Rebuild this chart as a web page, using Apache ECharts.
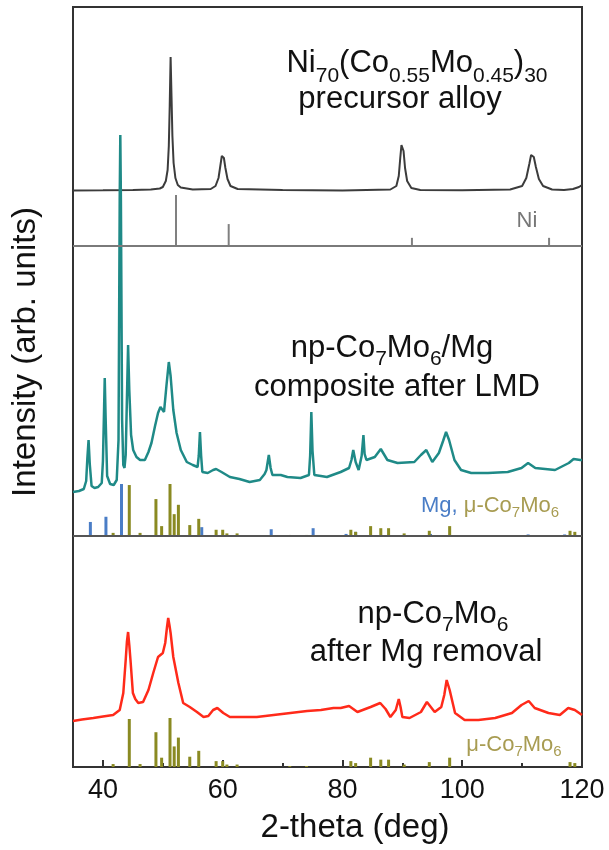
<!DOCTYPE html>
<html>
<head>
<meta charset="utf-8">
<script src="https://cdn.jsdelivr.net/npm/echarts@6/dist/echarts.min.js"></script>
</head>
<body style="margin: 0">
<div id="container" style="width: 609px; height: 850px;"></div>
<script>
// 2-theta (deg) vs intensity above the baseline of each panel (arb. units)
var niAlloy = [[35,55.5],[40,55.7],[45,56],[48,56.5],[49.5,57.5],[50.0,59],[50.5,65],[50.8,76],[51.0,100],[51.15,140],[51.3,189],[51.45,150],[51.6,110],[51.8,83],[52.1,68],[52.5,61],[53,58.5],[55,56.5],[58,57],[58.8,60],[59.3,68],[59.6,80],[59.85,90],[60.0,92],[60.2,88],[60.45,78],[60.8,67],[61.3,60],[62.5,57],[70,56],[80,55.5],[88,56.5],[89,60],[89.4,70],[89.65,88],[89.85,101],[90.0,103],[90.2,95],[90.45,78],[90.8,65],[91.5,58],[93,56],[100,55.7],[108,56.5],[110,60],[110.7,68],[111.2,82],[111.5,91],[111.7,93],[111.95,89],[112.3,79],[112.8,67],[113.5,60],[115,56.5],[117,56],[118.5,57],[119.5,59],[120,61]];

var composite = [[35,44],[36,45],[36.8,47],[37.2,55],[37.4,78],[37.6,96],[37.8,72],[38.1,50],[38.6,48],[39.2,49],[39.8,53],[40.0,75],[40.2,130],[40.3,158],[40.45,118],[40.7,60],[41.2,52],[41.8,51],[42.3,56],[42.6,96],[42.8,336],[42.9,401],[43.0,336],[43.2,116],[43.4,71],[43.6,68],[43.8,81],[44.0,136],[44.2,191],[44.4,146],[44.7,101],[45.05,86],[45.6,79],[46.2,76],[47.0,76],[47.6,84],[48.1,93],[48.7,110],[49.2,123],[49.6,129],[50.2,124],[50.6,150],[51.0,174],[51.3,160],[51.75,126],[52.3,103],[53.0,86],[54.0,74],[55.0,71],[55.8,69],[56.0,80],[56.2,104],[56.4,80],[56.6,64],[57.5,63],[58.4,66],[58.9,67],[59.8,64],[61.2,59],[62.8,57],[64.5,54],[66.2,56],[67.0,62],[67.3,66],[67.7,81],[68.0,68],[68.3,61],[69.7,61],[70.8,59],[73.0,58],[74.4,61],[74.6,80],[74.8,124],[75.0,85],[75.3,61],[76.4,60],[77.4,59],[79.7,64],[81.1,68],[81.5,76],[81.8,86],[82.2,74],[82.7,66],[83.2,80],[83.5,101],[83.7,82],[84.0,76],[85.4,79],[86.4,87],[87.5,76],[89.2,73],[92.0,74],[93.1,81],[94.0,86],[95.0,74],[96.1,83],[96.8,95],[97.3,104],[97.8,96],[98.7,76],[99.8,66],[101.5,63],[104.3,63],[107.6,64],[109.9,68],[111.0,73],[112.2,68],[115.5,66],[117.8,73],[118.6,77],[119.7,76],[120,76]];

var afterRemoval = [[35,46],[36.5,47.5],[38.4,49],[40,50.5],[41.7,52],[42.8,57],[43.4,74],[43.8,107],[44.0,125],[44.2,135],[44.4,122],[44.6,107],[45.0,74],[45.4,68],[45.9,64],[46.7,65],[47.6,77],[48.4,94],[49.2,110],[50.0,114],[50.4,124],[50.7,140],[50.9,149],[51.1,142],[51.3,134],[51.75,110],[52.6,84],[53.4,64],[54.5,60],[55.7,55],[56.8,50],[57.6,51],[58.4,57],[59.1,59],[60.1,54],[61.2,50],[63.5,50],[65.7,50],[68.5,52],[71.3,54],[74.1,56],[76.4,57],[78.5,59],[79.7,59],[81.1,61],[82.5,55],[84.7,60],[86.3,64],[87.2,58],[88.0,50],[88.9,57],[89.4,68],[89.7,60],[90.0,50],[91.2,49],[93.1,55],[94.1,65],[95.4,55],[96.5,60],[97.0,72],[97.4,87],[97.9,77],[98.8,54],[100.4,47],[102.7,47],[105.5,49],[108.3,54],[109.9,62],[111.1,66],[112.1,59],[114.4,54],[116.3,52],[117.7,59],[118.8,57],[120,52]];

// reference patterns: 2-theta, relative intensity (%)
var niRef = [[52.2,100],[61.0,43],[91.6,16],[114.5,16]];
var mgRef = [[37.9,27],[40.5,37],[43.1,100],[56.5,17],[68.1,13],[75.1,15],[80.6,4],[82.2,8],[94.7,4],[111.0,3],[117.1,3]];
var co7mo6Ref = [[41.7,6],[44.4,98],[46.2,6],[48.85,71],[49.8,19],[51.2,100],[51.9,42],[52.6,60],[54.5,21],[56.0,33],[58.9,12],[60.0,12],[60.7,5],[62.4,5],[71.2,2],[74.0,2],[81.4,12],[82.2,8],[84.7,19],[86.4,15],[87.7,15],[90.3,5],[94.5,10],[97.9,19],[118.0,10],[118.8,8]];

var majorTicks = [40, 60, 80, 100, 120];
var minorTicks = [50, 70, 90, 110];

// vertical offsets of the stacked panels
var topBase = 521, midBase = 231, lowBase = 0;

var dom = document.getElementById('container');
var myChart = echarts.init(dom);

function shift(data, off) {
    return data.map(function (d) { return [d[0], d[1] + off]; });
}

function sticks(name, data, base, scale, color, width) {
    return {
        name: name,
        type: 'custom',
        silent: true,
        data: data,
        encode: { x: 0, y: 1 },
        renderItem: function (params, api) {
            var p0 = api.coord([api.value(0), base]);
            var p1 = api.coord([api.value(0), base + api.value(1) * scale]);
            return {
                type: 'line',
                shape: { x1: p0[0], y1: p0[1], x2: p1[0], y2: p1[1] },
                style: { stroke: color, lineWidth: width }
            };
        }
    };
}

var FONT = '"Liberation Sans", Arial, sans-serif';

function label(x, y, text, size, color, subSize, subPad, rich) {
    var r = {
        s: { fontSize: subSize, fontFamily: FONT, padding: [subPad, 0, 0, 0], fill: color, color: color }
    };
    if (rich) { for (var k in rich) r[k] = rich[k]; }
    return {
        type: 'text',
        x: x,
        y: y,
        style: {
            text: text,
            fontSize: size,
            fontFamily: FONT,
            fill: color,
            align: 'center',
            verticalAlign: 'middle',
            textAlign: 'center',
            textVerticalAlign: 'middle',
            rich: r
        }
    };
}

var olive = '#8a8a22';
var tan = '#a89c52';
var blue = '#4a7dc6';

var yTitle = label(26, 352, 'Intensity (arb. units)', 33, '#111', 20, 0);
yTitle.rotation = Math.PI / 2;

var option = {
    animation: false,
    grid: [
        { left: 73, right: 27, top: 7, bottom: 83, show: true, borderColor: '#333', borderWidth: 2 },
        { left: 73, right: 27, top: 7, bottom: 83 }
    ],
    xAxis: [{
        type: 'value', min: 35, max: 120,
        axisLine: { show: false },
        splitLine: { show: false },
        axisTick: { inside: true, length: 7, customValues: majorTicks, lineStyle: { color: '#333', width: 2 } },
        axisLabel: { customValues: majorTicks, fontSize: 27, color: '#111', fontFamily: FONT, margin: 10 }
    }, {
        type: 'value', min: 35, max: 120, gridIndex: 1,
        axisLine: { show: false },
        splitLine: { show: false },
        axisTick: { inside: true, length: 4, customValues: minorTicks, lineStyle: { color: '#333', width: 2 } },
        axisLabel: { show: false }
    }],
    yAxis: [{
        type: 'value', min: 0, max: 760, show: false
    }, {
        type: 'value', min: 0, max: 760, show: false, gridIndex: 1
    }],
    graphic: [
        yTitle,
        label(355, 828, '2-theta (deg)', 33, '#111', 20, 0),
        label(417, 63, 'Ni{s|70}(Co{s|0.55}Mo{s|0.45}){s|30}', 31, '#111', 21, 26),
        label(400, 99, 'precursor alloy', 31, '#111', 21, 0),
        label(392, 348, 'np-Co{s|7}Mo{s|6}/Mg', 31, '#111', 21, 22),
        label(397, 387, 'composite after LMD', 31, '#111', 21, 0),
        label(433, 614, 'np-Co{s|7}Mo{s|6}', 31, '#111', 21, 22),
        label(426, 652, 'after Mg removal', 31, '#111', 21, 0),
        label(527, 221, 'Ni', 22, '#777', 15, 0),
        label(490, 506, '{b|Mg,} μ-Co{s|7}Mo{s|6}', 22, tan, 15, 14,
            { b: { fontSize: 22, fontFamily: FONT, fill: blue, color: blue } }),
        label(514, 745, 'μ-Co{s|7}Mo{s|6}', 22, tan, 15, 14)
    ],
    series: [
        sticks('Ni', niRef, topBase, 0.51, '#808080', 2),
        sticks('Mg', mgRef, midBase, 0.52, blue, 3),
        sticks('μ-Co7Mo6 (LMD)', co7mo6Ref, midBase, 0.52, olive, 3),
        sticks('μ-Co7Mo6', co7mo6Ref, lowBase, 0.49, olive, 3),
        {
            name: 'precursor alloy',
            type: 'line',
            data: shift(niAlloy, topBase),
            showSymbol: false,
            lineStyle: { color: '#3c3c3c', width: 2 },
            markLine: {
                silent: true,
                symbol: ['none', 'none'],
                label: { show: false },
                data: [
                    { yAxis: topBase, lineStyle: { color: '#7a7a7a', width: 2, type: 'solid' } },
                    { yAxis: midBase, lineStyle: { color: '#555', width: 2, type: 'solid' } }
                ]
            }
        },
        {
            name: 'composite after LMD',
            type: 'line',
            data: shift(composite, midBase),
            showSymbol: false,
            lineStyle: { color: '#1f8a87', width: 2.5 }
        },
        {
            name: 'after Mg removal',
            type: 'line',
            data: shift(afterRemoval, lowBase),
            showSymbol: false,
            lineStyle: { color: '#ff2a1a', width: 2.5 }
        }
    ]
};

myChart.setOption(option, true);
</script>
</body>
</html>
